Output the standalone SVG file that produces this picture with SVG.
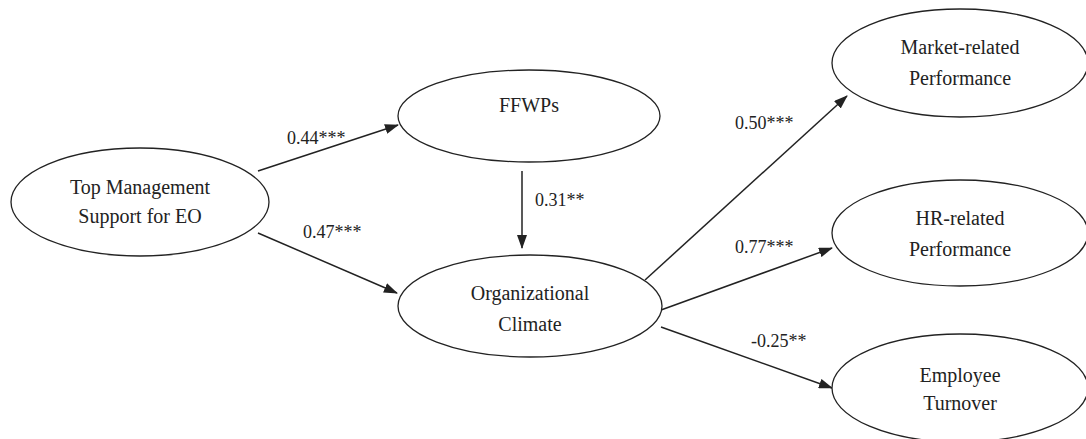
<svg xmlns="http://www.w3.org/2000/svg" width="1086" height="439" viewBox="0 0 1086 439">
<style>
.node ellipse{fill:#fff;stroke:#222;stroke-width:1.3}
.node text{font-family:'Liberation Serif','Times New Roman','DejaVu Serif',serif;font-size:20px;fill:#222;text-anchor:middle}
.edge line{stroke:#222;stroke-width:1.5;fill:none}
.lbl{font-family:'Liberation Serif','Times New Roman','DejaVu Serif',serif;font-size:18px;fill:#222}
</style>
<defs>
<marker id="ah" markerWidth="14" markerHeight="10" refX="13" refY="5" orient="auto" markerUnits="userSpaceOnUse">
<path d="M0,0 L14,5 L0,10 Z" fill="#222"/>
</marker>
</defs>
<rect width="1086" height="439" fill="#fff"/>
<g id="connectors" class="edge">
<line x1="258" y1="171" x2="398" y2="125" marker-end="url(#ah)"/>
<line x1="258" y1="233" x2="397" y2="293" marker-end="url(#ah)"/>
<line x1="522" y1="171" x2="522" y2="248" marker-end="url(#ah)"/>
<line x1="645" y1="280" x2="847" y2="96" marker-end="url(#ah)"/>
<line x1="661" y1="310" x2="832" y2="248" marker-end="url(#ah)"/>
<line x1="661" y1="327" x2="832" y2="388" marker-end="url(#ah)"/>
</g>
<g id="labels" font-family="Liberation Serif, serif">
<text class="lbl" x="287" y="144">0.44***</text>
<text class="lbl" x="303" y="238">0.47***</text>
<text class="lbl" x="535" y="206">0.31**</text>
<text class="lbl" x="735" y="129">0.50***</text>
<text class="lbl" x="735" y="253">0.77***</text>
<text class="lbl" x="751" y="347">-0.25**</text>
</g>
<g id="top-management" class="node">
<ellipse cx="140" cy="202" rx="129" ry="54"/>
<text x="140" y="194">Top Management</text>
<text x="140" y="223">Support for EO</text>
</g>
<g id="ffwps" class="node">
<ellipse cx="529" cy="116" rx="131" ry="46"/>
<text x="529" y="112">FFWPs</text>
</g>
<g id="org-climate" class="node">
<ellipse cx="530" cy="306" rx="132" ry="51"/>
<text x="530" y="300">Organizational</text>
<text x="530" y="331">Climate</text>
</g>
<g id="market-performance" class="node">
<ellipse cx="960" cy="63" rx="128" ry="54"/>
<text x="960" y="54">Market-related</text>
<text x="960" y="85">Performance</text>
</g>
<g id="hr-performance" class="node">
<ellipse cx="960" cy="233" rx="128" ry="53"/>
<text x="960" y="225">HR-related</text>
<text x="960" y="256">Performance</text>
</g>
<g id="employee-turnover" class="node">
<ellipse cx="960" cy="388" rx="128" ry="54"/>
<text x="960" y="382">Employee</text>
<text x="960" y="410">Turnover</text>
</g>
</svg>
